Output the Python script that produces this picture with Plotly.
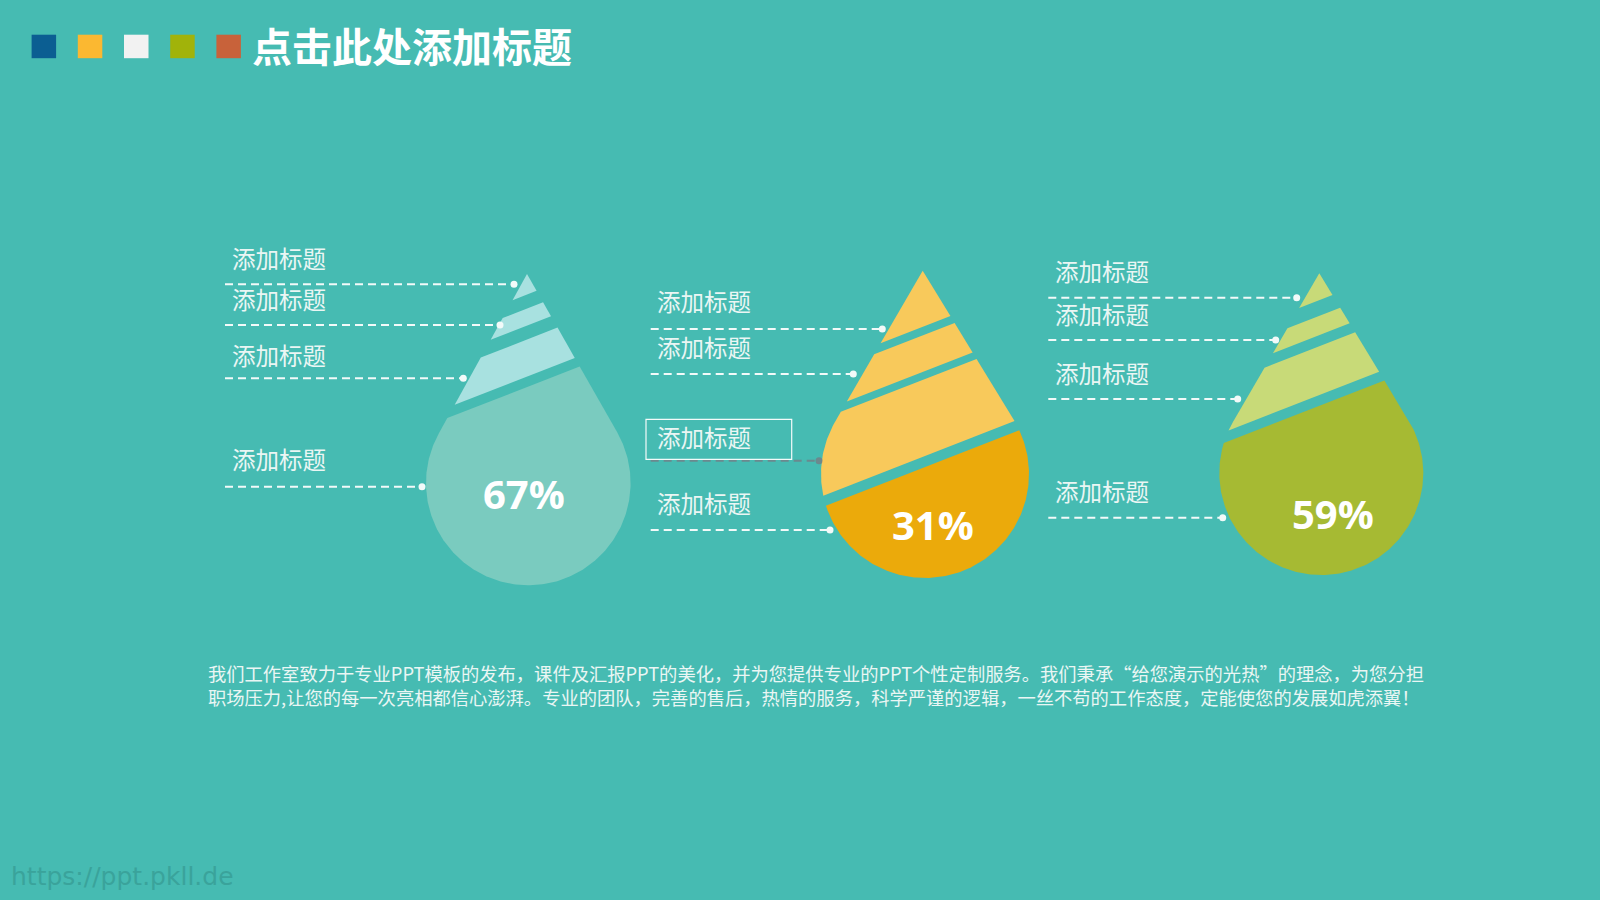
import math
import numpy as np
import plotly.graph_objects as go

# ---------------- data ----------------
title_text = "点击此处添加标题"
percent_values = [67, 31, 59]
percent_labels = [f"{v}%" for v in percent_values]
segment_labels = [
    ["添加标题", "添加标题", "添加标题", "添加标题"],
    ["添加标题", "添加标题", "添加标题", "添加标题"],
    ["添加标题", "添加标题", "添加标题", "添加标题"],
]
body_lines = [
    "我们工作室致力于专业PPT模板的发布，课件及汇报PPT的美化，并为您提供专业的PPT个性定制服务。我们秉承“给您演示的光热”的理念，为您分担",
    "职场压力,让您的每一次亮相都信心澎湃。专业的团队，完善的售后，热情的服务，科学严谨的逻辑，一丝不苟的工作态度，定能使您的发展如虎添翼！",
]
watermark = "https://ppt.pkll.de"
square_colors = ["#0B5E92", "#FBB831", "#F2F2F2", "#A1B30A", "#C8623A"]

# ---------------- layout / style ----------------
BG = "#46BBB2"
TEXT = "#EAF6F4"
SLOPE = -0.39

drops = [
    dict(cx=528.3, cy=483, r=102.3, tip=(527, 274),
         cuts=[(294, 308), (325, 339), (376, 386.5)],
         light="#A8E1E0", dark="#7ACBBF", pct_xy=(523.7, 493),
         label_x=230, label_y=[258, 299, 354.5, 459],
         line_y=[284.3, 325, 378.3, 486.7], dot_x=[514, 500, 463.3, 422], line_x0=225),
    dict(cx=925, cy=474, r=104, tip=(922.7, 270.7),
         cuts=[(326, 334.5), (371, 379), (456, 467)],
         light="#F8C95B", dark="#EBAA0B", pct_xy=(932.5, 524.7),
         label_x=655.3, label_y=[301.3, 347.3, 437, 503.3],
         line_y=[329, 374, 460.7, 530], dot_x=[882.3, 853.3, 819, 830], line_x0=650.7),
    dict(cx=1321.3, cy=473, r=102, tip=(1319.3, 273.3),
         cuts=[(299.4, 315), (334.3, 345.5), (394.3, 405)],
         light="#C8DA78", dark="#A6BA33", pct_xy=(1332.5, 513),
         label_x=1053, label_y=[270.6, 314, 373.3, 490.6],
         line_y=[297.7, 340, 399, 517.7], dot_x=[1296.7, 1275.7, 1237.7, 1222.7], line_x0=1048.3),
]
selected = (1, 2)  # drop index, label index shown with selection box


def drop_outline(cx, cy, r, tx, ty, n=240):
    dx, dy = tx - cx, ty - cy
    d = math.hypot(dx, dy)
    base = math.atan2(dy, dx)
    a = math.acos(r / d)
    ts = np.linspace(base + a, base - a + 2 * math.pi, n)
    pts = [(tx, ty)] + [(cx + r * math.cos(t), cy + r * math.sin(t)) for t in ts]
    return pts


def clip(poly, y0, cx, keep_below):
    def f(p):
        v = p[1] - (y0 + SLOPE * (p[0] - cx))
        return v if keep_below else -v
    out = []
    n = len(poly)
    for i in range(n):
        cur, prv = poly[i], poly[i - 1]
        fc, fp = f(cur), f(prv)
        if fc >= 0:
            if fp < 0:
                t = fp / (fp - fc)
                out.append((prv[0] + t * (cur[0] - prv[0]), prv[1] + t * (cur[1] - prv[1])))
            out.append(cur)
        elif fp >= 0:
            t = fp / (fp - fc)
            out.append((prv[0] + t * (cur[0] - prv[0]), prv[1] + t * (cur[1] - prv[1])))
    return out


fig = go.Figure()
annotations = []
shapes = []

for di, dp in enumerate(drops):
    outline = drop_outline(dp["cx"], dp["cy"], dp["r"], *dp["tip"])
    cuts = dp["cuts"]
    npieces = len(cuts) + 1
    for k in range(npieces):
        poly = outline
        if k > 0:
            poly = clip(poly, cuts[k - 1][1], dp["cx"], True)
        if k < npieces - 1:
            poly = clip(poly, cuts[k][0], dp["cx"], False)
        xs = [p[0] for p in poly] + [poly[0][0]]
        ys = [p[1] for p in poly] + [poly[0][1]]
        fig.add_trace(go.Scatter(x=xs, y=ys, mode="lines", fill="toself",
                                 fillcolor=dp["dark"] if k == npieces - 1 else dp["light"],
                                 line=dict(width=0, color="rgba(0,0,0,0)"),
                                 hoverinfo="skip", showlegend=False))
    # leader lines and labels
    for li, lab in enumerate(segment_labels[di]):
        sel = (di, li) == selected
        lc = "rgba(120,120,130,0.75)" if sel else "#F2FAF9"
        fig.add_trace(go.Scatter(x=[dp["line_x0"], dp["dot_x"][li]],
                                 y=[dp["line_y"][li]] * 2, mode="lines",
                                 line=dict(color=lc, width=2, dash="8px,5px"),
                                 hoverinfo="skip", showlegend=False))
        fig.add_trace(go.Scatter(x=[dp["dot_x"][li]], y=[dp["line_y"][li]], mode="markers",
                                 marker=dict(size=7, color=lc, line=dict(width=0)),
                                 hoverinfo="skip", showlegend=False))
        annotations.append(dict(x=dp["label_x"], y=dp["label_y"][li], xref="x", yref="y",
                                text=lab, showarrow=False, xanchor="left", yanchor="middle",
                                font=dict(family="Noto Sans CJK SC", size=23.5, color=TEXT)))
        if sel:
            shapes.append(dict(type="rect", xref="x", yref="y", x0=646, x1=791.7,
                               y0=419.3, y1=459.3, line=dict(color="#F4FBFA", width=1.2)))
    annotations.append(dict(x=dp["pct_xy"][0], y=dp["pct_xy"][1], xref="x", yref="y",
                            text=f"<b>{percent_labels[di]}</b>", showarrow=False,
                            xanchor="center", yanchor="middle",
                            font=dict(family="Open Sans", size=40, color="#FFFFFF")))

# title squares
for i, c in enumerate(square_colors):
    x0 = 31.6 + i * 46.2
    shapes.append(dict(type="rect", xref="x", yref="y", x0=x0, x1=x0 + 24.5,
                       y0=34.7, y1=58.2, fillcolor=c, line=dict(width=0)))

annotations.append(dict(x=250, y=45, xref="x", yref="y", text=f"<b>{title_text}</b>",
                        showarrow=False, xanchor="left", yanchor="middle",
                        font=dict(family="Noto Sans CJK SC", size=40, color="#FFFFFF")))

annotations.append(dict(x=206, y=685, xref="x", yref="y", text="<br>".join(body_lines),
                        showarrow=False, xanchor="left", yanchor="middle", align="left",
                        font=dict(family="Noto Sans CJK SC", size=18.3, color=TEXT)))

annotations.append(dict(x=9, y=876, xref="x", yref="y", text=watermark, showarrow=False,
                        xanchor="left", yanchor="middle",
                        font=dict(family="DejaVu Sans", size=25, color="#3AA39B")))

fig.update_layout(
    width=1600, height=900, margin=dict(l=0, r=0, t=0, b=0),
    paper_bgcolor=BG, plot_bgcolor=BG,
    xaxis=dict(range=[0, 1600], visible=False, fixedrange=True),
    yaxis=dict(range=[900, 0], visible=False, fixedrange=True),
    annotations=annotations, shapes=shapes, showlegend=False,
)

fig.write_html("out.html", config={"displayModeBar": False},
               post_script="document.body.style.margin='0';document.body.style.overflow='hidden';")
